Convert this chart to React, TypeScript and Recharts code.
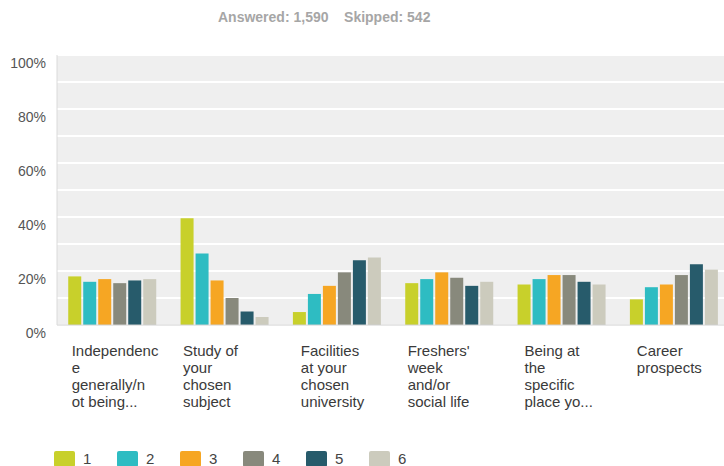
import { BarChart, Bar, XAxis, YAxis, CartesianGrid } from 'recharts'

const categories = [
  ['Independenc', 'e', 'generally/n', 'ot being...'],
  ['Study of', 'your', 'chosen', 'subject'],
  ['Facilities', 'at your', 'chosen', 'university'],
  ["Freshers'", 'week', 'and/or', 'social life'],
  ['Being at', 'the', 'specific', 'place yo...'],
  ['Career', 'prospects'],
]

const seriesNames = ['1', '2', '3', '4', '5', '6']
const s1 = [18, 39.5, 4.8, 15.5, 15, 9.5]
const s2 = [16, 26.5, 11.5, 17, 17, 14]
const s3 = [17, 16.5, 14.5, 19.5, 18.5, 15]
const s4 = [15.5, 10, 19.5, 17.5, 18.5, 18.5]
const s5 = [16.5, 5, 24, 14.5, 16, 22.5]
const s6 = [17, 3, 25, 16, 15, 20.5]

const yTicks = [0, 10, 20, 30, 40, 50, 60, 70, 80, 90, 100]

const COLORS = ['#c8d02b', '#2ebcc2', '#f6a623', '#88897c', '#275b6b', '#cccbbd']
// label start relative to category centre
const LABEL_SHIFT = [-41.5, -42.5, -37, -42.5, -38, -38]

const allSeries = [s1, s2, s3, s4, s5, s6]
const data = categories.map((c, i) => {
  const row: Record<string, number | string> = { name: String(i) }
  seriesNames.forEach((s, j) => { row['s' + s] = allSeries[j][i] })
  return row
})

const FONT = '"Liberation Sans", Arial, sans-serif'

function XTick(props: any) {
  const { x, y, payload } = props
  const idx = Number(payload.value)
  const lines = categories[idx] ?? []
  return (
    <text x={x + LABEL_SHIFT[idx]} y={y + 23} fill="#3a3a3a" fontSize={15} fontFamily={FONT} textAnchor="start">
      {lines.map((l, k) => (
        <tspan key={k} x={x + LABEL_SHIFT[idx]} dy={k === 0 ? 0 : 17}>{l}</tspan>
      ))}
    </text>
  )
}

function YTick(props: any) {
  const { x, y, payload } = props
  if (payload.value % 20 !== 0) return <g />
  return (
    <text x={x - 3} y={y + 12.5} fill="#555" fontSize={14} fontFamily={FONT} textAnchor="end">
      {payload.value}%
    </text>
  )
}

export default function App() {
  return (
    <div style={{ position: 'absolute', left: 0, top: 0, width: 724, height: 466, overflow: 'hidden', background: '#fff', fontFamily: FONT }}>
      <div style={{ position: 'absolute', left: 218, top: 9, whiteSpace: 'nowrap', color: '#a6a6a6', fontSize: 14, fontWeight: 'bold' }}>
        Answered: 1,590&nbsp;&nbsp;&nbsp;&nbsp;Skipped: 542
      </div>
      <div style={{ position: 'absolute', left: 0, top: 0 }}>
        <BarChart width={724} height={466} data={data} margin={{ top: 55, right: -7, left: 0, bottom: 0 }}
          barCategoryGap="10%" barGap={2}>
          <CartesianGrid vertical={false} fill="#efefef" stroke="#ffffff" strokeWidth={2} />
          <XAxis dataKey="name" height={141} tickLine={false} axisLine={{ stroke: '#cfcfcf' }} tick={<XTick />} interval={0} />
          <YAxis width={57} domain={[0, 100]} ticks={yTicks} tickLine={false} axisLine={{ stroke: '#dadada' }} tick={<YTick />} />
          {seriesNames.map((s, j) => (
            <Bar key={s} dataKey={'s' + s} fill={COLORS[j]} isAnimationActive={false} />
          ))}
        </BarChart>
      </div>
      <div style={{ position: 'absolute', left: 54, top: 451, display: 'flex' }}>
        {seriesNames.map((s, j) => (
          <div key={s} style={{ display: 'flex', alignItems: 'flex-start', width: 63 }}>
            <div style={{ width: 21, height: 16, borderRadius: 2, background: COLORS[j] }} />
            <span style={{ marginLeft: 8, fontSize: 15, color: '#444', lineHeight: '15px' }}>{s}</span>
          </div>
        ))}
      </div>
    </div>
  )
}
